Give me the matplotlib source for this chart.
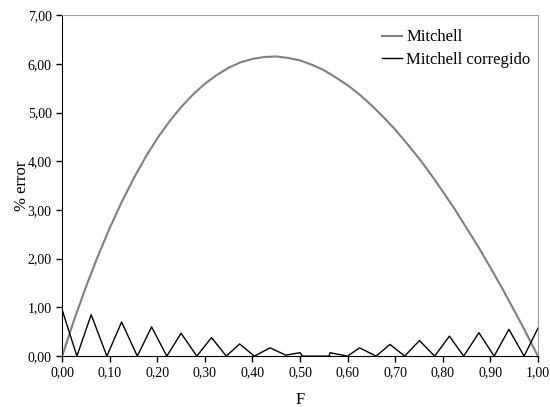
import matplotlib
matplotlib.use('Agg')
import matplotlib.pyplot as plt
from matplotlib.ticker import FuncFormatter

plt.rcParams['font.family'] = ['Liberation Serif', 'DejaVu Serif']

# Mitchell
f_mit = [0.0, 0.025, 0.05, 0.075, 0.10, 0.125, 0.15, 0.175, 0.20, 0.225, 0.25, 0.275,
         0.30, 0.325, 0.35, 0.375, 0.40, 0.425, 0.45, 0.475, 0.50, 0.525, 0.55, 0.575,
         0.60, 0.625, 0.65, 0.675, 0.70, 0.725, 0.75, 0.775, 0.80, 0.825, 0.85, 0.875,
         0.90, 0.925, 0.95, 0.975, 1.0]
err_mit = [0.0, 0.74, 1.42, 2.05, 2.63, 3.16, 3.64, 4.08, 4.47, 4.81, 5.11, 5.37,
           5.59, 5.77, 5.92, 6.03, 6.10, 6.14, 6.15, 6.12, 6.07, 5.98, 5.87, 5.72,
           5.56, 5.37, 5.15, 4.91, 4.65, 4.36, 4.06, 3.73, 3.38, 3.02, 2.63, 2.24,
           1.82, 1.39, 0.94, 0.48, 0.0]

# Mitchell corrigido
f_cor = [0.0, 0.031, 0.061, 0.094, 0.125, 0.158, 0.188, 0.220, 0.250, 0.283, 0.314,
         0.345, 0.373, 0.404, 0.437, 0.470, 0.500, 0.505, 0.561, 0.563, 0.600, 0.625,
         0.660, 0.689, 0.720, 0.751, 0.783, 0.814, 0.844, 0.876, 0.908, 0.939, 0.971, 1.0]
err_cor = [0.95, 0.0, 0.85, 0.0, 0.70, 0.0, 0.60, 0.0, 0.47, 0.0, 0.38,
           0.0, 0.25, 0.0, 0.17, 0.02, 0.07, 0.0, 0.0, 0.07, 0.0, 0.17,
           0.0, 0.24, 0.0, 0.32, 0.0, 0.41, 0.0, 0.48, 0.0, 0.55, 0.0, 0.57]

fig = plt.figure(figsize=(5.5, 4.07), dpi=100)
ax = fig.add_axes([0.113, 0.125, 0.865, 0.838])

ax.plot(f_mit, err_mit, color='#808080', lw=1.5, label='Mitchell')
ax.plot(f_cor, err_cor, color='black', lw=1.0, label='Mitchell corregido')

ax.set_xlim(0, 1)
ax.set_ylim(0, 7)
ax.set_xticks([i / 10 for i in range(11)])
ax.set_yticks(range(8))
fmt = FuncFormatter(lambda v, p: '{:.2f}'.format(v).replace('.', ','))
ax.xaxis.set_major_formatter(fmt)
ax.yaxis.set_major_formatter(fmt)
ax.tick_params(direction='out', length=4, width=1, labelsize=10, colors='black')

ax.spines['top'].set_color('#a0a0a0')
ax.spines['right'].set_color('#a0a0a0')
ax.spines['left'].set_color('black')
ax.spines['bottom'].set_color('black')

ax.set_xlabel('F', fontsize=12, labelpad=9)
ax.set_ylabel('% error', fontsize=12, labelpad=-1.5)

ax.legend(loc='upper left', frameon=False, fontsize=12, handlelength=1.2,
          handletextpad=0.25, borderpad=0, borderaxespad=0, labelspacing=0.4,
          bbox_to_anchor=(0.672, 0.958))

fig.savefig('out.png', dpi=100)
